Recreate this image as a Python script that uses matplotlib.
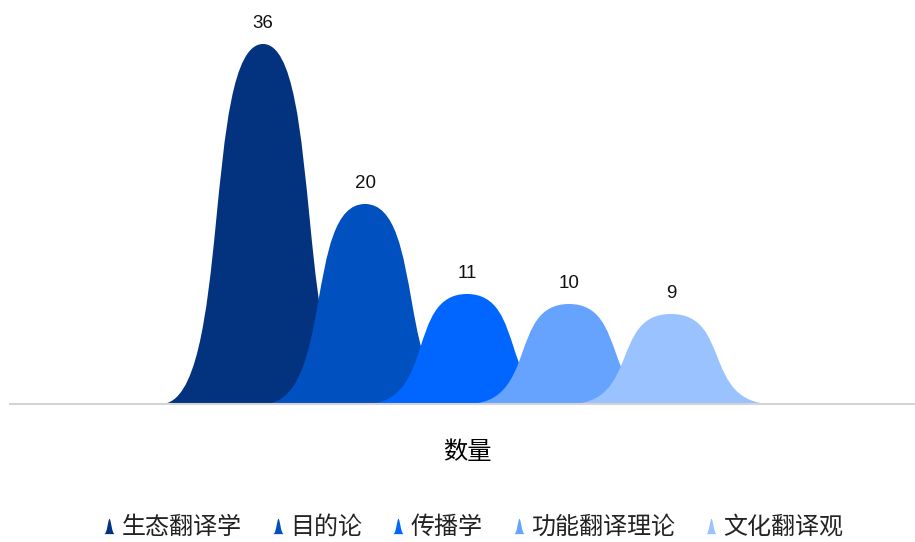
import matplotlib.pyplot as plt
from matplotlib.path import Path
from matplotlib.patches import PathPatch
from matplotlib.lines import Line2D

plt.rcParams['font.family'] = ['Liberation Sans', 'Noto Sans CJK SC']

# Data
categories = ['生态翻译学', '目的论', '传播学', '功能翻译理论', '文化翻译观']
values = [36, 20, 11, 10, 9]
colors = ['#03337f', '#0050c0', '#0066ff', '#66a3ff', '#99c2ff']


def mountain(xc, h, w=1.0, a=0.3, b=0.6):
    verts = [(xc - w, 0),
             (xc - a * w, 0), (xc - b * w, h), (xc, h),
             (xc + b * w, h), (xc + a * w, 0), (xc + w, 0),
             (xc - w, 0)]
    codes = [Path.MOVETO] + [Path.CURVE4] * 6 + [Path.CLOSEPOLY]
    return Path(verts, codes)


fig = plt.figure(figsize=(9.15, 5.42), dpi=100)
W, H = 915, 542
ax = fig.add_axes([10 / W, 1 - 404 / H, (915 - 10) / W, (404 - 30) / H])

for i, (v, c) in enumerate(zip(values, colors)):
    ax.add_patch(PathPatch(mountain(i, v), facecolor=c, edgecolor='none'))
    ax.text(i, v + 1.2, str(v), ha='center', va='bottom', fontsize=13.5, color='#111111')

ax.set_xlim((10 - 263) / 102, (915 - 263) / 102)
ax.set_ylim(0, (404 - 30) / 10)
for s in ['top', 'right', 'left']:
    ax.spines[s].set_visible(False)
ax.spines['bottom'].set_color('#d4d4d4')
ax.spines['bottom'].set_linewidth(1.5)
ax.set_xticks([])
ax.set_yticks([])

fig.text(467 / W, 1 - 452 / H, '数量', ha='center', va='center', fontsize=17.5,
         family=['Noto Sans CJK SC'])

# legend with small mountain markers
icon = Path([(-0.35, -0.5), (-0.15, -0.5), (-0.1, 0.5), (0, 0.5), (0.1, 0.5),
             (0.15, -0.5), (0.35, -0.5), (-0.35, -0.5)],
            [Path.MOVETO] + [Path.CURVE4] * 6 + [Path.CLOSEPOLY])
handles = [Line2D([], [], linestyle='none', marker=icon, markersize=11,
                  markerfacecolor=c, markeredgecolor='none') for c in colors]
leg = fig.legend(handles, categories, loc='center', bbox_to_anchor=(474 / W, 1 - 527 / H),
                 ncol=5, frameon=False, handlelength=0.4, handletextpad=0.3,
                 columnspacing=1.32, prop={'family': ['Noto Sans CJK SC'], 'size': 17.3})
for t in leg.get_texts():
    t.set_color('#222222')

fig.savefig('out.png', dpi=100)
